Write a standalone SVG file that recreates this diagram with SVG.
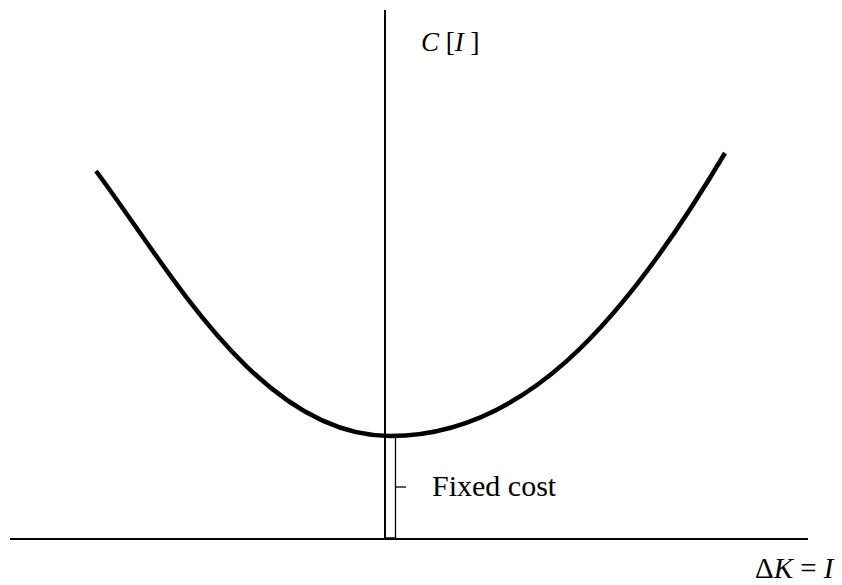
<svg xmlns="http://www.w3.org/2000/svg" width="842" height="585" viewBox="0 0 842 585">
<style>
.ax{stroke:#000;stroke-width:2;fill:none}
.thin{stroke:#000;stroke-width:1.3;fill:none}
.curve{stroke:#000;stroke-width:4.5;fill:none}
.t{font-family:"Liberation Serif",serif;fill:#000}
.i{font-style:italic}
</style>
<rect width="842" height="585" fill="#fff"/>
<g id="connectors">
<line class="ax" x1="10" y1="539" x2="808" y2="539"/>
<line class="ax" x1="385" y1="10" x2="385" y2="539"/>
<path class="thin" d="M395.5,437 V538 H385"/>
<line class="thin" x1="396" y1="487" x2="406" y2="487"/>
<path id="curve" class="curve" d="M96,171 C170,270 260,436 390,436 C520,436 620,330 725,153"/>
</g>
<g id="label-c"><text class="t" x="421" y="51" font-size="27"><tspan class="i">C</tspan> [<tspan class="i">I</tspan> ]</text></g>
<g id="label-fixed"><text class="t" x="432" y="496" font-size="30">Fixed cost</text></g>
<g id="label-dk"><text class="t" x="755" y="578" font-size="29">Δ<tspan class="i">K</tspan> = <tspan class="i">I</tspan></text></g>
</svg>
